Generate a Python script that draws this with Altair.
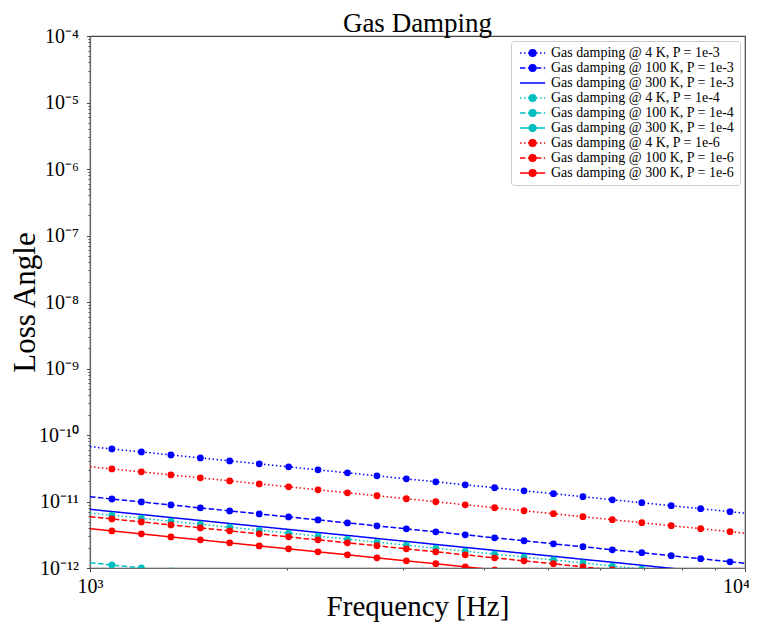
import altair as alt
import pandas as pd

# ---- data (frequency grid: plot edges + marker positions) ----
freq = [1000, 1080, 1198, 1329, 1474, 1634, 1813, 2010, 2229, 2472, 2742, 3041,
        3372, 3740, 4147, 4599, 5100, 5657, 6273, 6957, 7716, 8557, 9487, 10000]

series_names = [
    "Gas damping @ 4 K, P = 1e-3",
    "Gas damping @ 100 K, P = 1e-3",
    "Gas damping @ 300 K, P = 1e-3",
    "Gas damping @ 4 K, P = 1e-4",
    "Gas damping @ 100 K, P = 1e-4",
    "Gas damping @ 300 K, P = 1e-4",
    "Gas damping @ 4 K, P = 1e-6",
    "Gas damping @ 100 K, P = 1e-6",
    "Gas damping @ 300 K, P = 1e-6",
]
series_colors = ["#0000ff", "#0000ff", "#0000ff",
                 "#00bfbf", "#00bfbf", "#00bfbf",
                 "#ff0000", "#ff0000", "#ff0000"]
series_style = ["dotted", "dashed", "solid"] * 3
series_markers = [True, True, False, True, True, True, True, True, True]

blue_4K = [6.67e-11, 6.17e-11, 5.57e-11, 5.02e-11, 4.52e-11, 4.08e-11, 3.68e-11, 3.32e-11,
           2.99e-11, 2.70e-11, 2.43e-11, 2.19e-11, 1.98e-11, 1.78e-11, 1.61e-11, 1.45e-11,
           1.31e-11, 1.18e-11, 1.06e-11, 9.59e-12, 8.64e-12, 7.80e-12, 7.03e-12, 6.67e-12]
blue_100K = [1.18e-11, 1.09e-11, 9.85e-12, 8.88e-12, 8.01e-12, 7.22e-12, 6.51e-12, 5.87e-12,
             5.29e-12, 4.77e-12, 4.30e-12, 3.88e-12, 3.50e-12, 3.16e-12, 2.84e-12, 2.57e-12,
             2.31e-12, 2.09e-12, 1.88e-12, 1.70e-12, 1.53e-12, 1.38e-12, 1.24e-12, 1.18e-12]
blue_300K = [7.63e-12, 7.06e-12, 6.37e-12, 5.74e-12, 5.18e-12, 4.67e-12, 4.21e-12, 3.80e-12,
             3.42e-12, 3.09e-12, 2.78e-12, 2.51e-12, 2.26e-12, 2.04e-12, 1.84e-12, 1.66e-12,
             1.50e-12, 1.35e-12, 1.22e-12, 1.10e-12, 9.89e-13, 8.92e-13, 8.04e-13, 7.63e-13]
cyan_4K = [6.71e-12, 6.21e-12, 5.60e-12, 5.05e-12, 4.55e-12, 4.11e-12, 3.70e-12, 3.34e-12,
           3.01e-12, 2.71e-12, 2.45e-12, 2.21e-12, 1.99e-12, 1.79e-12, 1.62e-12, 1.46e-12,
           1.32e-12, 1.19e-12, 1.07e-12, 9.65e-13, 8.70e-13, 7.84e-13, 7.07e-13, 6.71e-13]
cyan_100K = [1.20e-12, 1.11e-12, 1.00e-12, 9.03e-13, 8.14e-13, 7.34e-13, 6.62e-13, 5.97e-13,
             5.38e-13, 4.85e-13, 4.38e-13, 3.95e-13, 3.56e-13, 3.21e-13, 2.89e-13, 2.61e-13,
             2.35e-13, 2.12e-13, 1.91e-13, 1.73e-13, 1.56e-13, 1.40e-13, 1.26e-13, 1.20e-13]
cyan_300K = [7.75e-13, 7.17e-13, 6.47e-13, 5.83e-13, 5.26e-13, 4.74e-13, 4.27e-13, 3.86e-13,
             3.48e-13, 3.13e-13, 2.83e-13, 2.55e-13, 2.30e-13, 2.07e-13, 1.87e-13, 1.68e-13,
             1.52e-13, 1.37e-13, 1.24e-13, 1.11e-13, 1.00e-13, 9.06e-14, 8.17e-14, 7.75e-14]
red_4K = [3.34e-11, 3.09e-11, 2.79e-11, 2.51e-11, 2.27e-11, 2.04e-11, 1.84e-11, 1.66e-11,
          1.50e-11, 1.35e-11, 1.22e-11, 1.10e-11, 9.91e-12, 8.93e-12, 8.05e-12, 7.26e-12,
          6.55e-12, 5.91e-12, 5.32e-12, 4.80e-12, 4.33e-12, 3.90e-12, 3.52e-12, 3.34e-12]
red_100K = [5.91e-12, 5.47e-12, 4.93e-12, 4.45e-12, 4.01e-12, 3.62e-12, 3.26e-12, 2.94e-12,
            2.65e-12, 2.39e-12, 2.16e-12, 1.94e-12, 1.75e-12, 1.58e-12, 1.42e-12, 1.28e-12,
            1.16e-12, 1.04e-12, 9.42e-13, 8.50e-13, 7.66e-13, 6.91e-13, 6.23e-13, 5.91e-13]
red_300K = [3.90e-12, 3.61e-12, 3.26e-12, 2.93e-12, 2.65e-12, 2.39e-12, 2.15e-12, 1.94e-12,
            1.75e-12, 1.58e-12, 1.42e-12, 1.28e-12, 1.16e-12, 1.04e-12, 9.40e-13, 8.48e-13,
            7.65e-13, 6.90e-13, 6.22e-13, 5.61e-13, 5.05e-13, 4.56e-13, 4.11e-13, 3.90e-13]

series_values = [blue_4K, blue_100K, blue_300K, cyan_4K, cyan_100K, cyan_300K,
                 red_4K, red_100K, red_300K]

# tick labels
y_exponents = list(range(-12, -3))
y_tick_labels = ["10⁻¹²", "10⁻¹¹", "10⁻¹⁰", "10⁻⁹", "10⁻⁸", "10⁻⁷", "10⁻⁶", "10⁻⁵", "10⁻⁴"]
x_tick_labels = ["10³", "10⁴"]
minor_mult = [1, 2, 3, 4, 5, 6, 7, 8, 9]

y_tick_values = [m * 10.0 ** e for e in y_exponents[:-1] for m in minor_mult] + [1e-4]
x_tick_values = [m * 1000 for m in minor_mult] + [10000]

rows = []
for name, vals, style, marked in zip(series_names, series_values, series_style, series_markers):
    n = len(freq)
    for i, (f, v) in enumerate(zip(freq, vals)):
        rows.append({"freq": f, "value": v, "series": name, "style": style,
                     "marker": bool(marked and 0 < i < n - 1)})
df = pd.DataFrame(rows)

# legend symbols (line segment + dot); one path unit = 6 px with symbolSize 144
circ = "M1.05,0A0.55,0.55,0,1,1,2.15,0A0.55,0.55,0,1,1,1.05,0Z"
dotted_line = "M-0.5,0h0.25M0.17,0h0.25M0.83,0h0.25M2.17,0h0.25M2.83,0h0.25M3.5,0h0.2"
dashed_line = "M-0.5,0h0.92M0.82,0h0.92M2.14,0h0.92M3.46,0h0.24"
solid_line = "M-0.5,0H3.7"
legend_shapes = [dotted_line + circ, dashed_line + circ, solid_line,
                 dotted_line + circ, dashed_line + circ, solid_line + circ,
                 dotted_line + circ, dashed_line + circ, solid_line + circ]

serif = "Liberation Serif"

major_y = "abs(log(datum.value)/LN10 - round(log(datum.value)/LN10)) < 1e-6"
y_label_expr = f"{major_y} ? {y_tick_labels!r}[round(log(datum.value)/LN10) + 12] : ''"
x_label_expr = f"{major_y} ? {x_tick_labels!r}[round(log(datum.value)/LN10) - 3] : ''"

x_enc = alt.X("freq:Q",
              scale=alt.Scale(type="log", domain=[1000, 10000], nice=False),
              axis=alt.Axis(title="Frequency [Hz]", values=x_tick_values,
                            labelExpr=x_label_expr, labelFlush=False, labelOverlap=False,
                            labelFont=serif, labelFontSize=20, labelColor="black",
                            labelPadding=5, labelBaseline="top",
                            labelOffset={"condition": {"test": "datum.value >= 9999", "value": -9},
                                         "value": 0},
                            tickSize={"condition": {"test": major_y, "value": 3.5}, "value": 2},
                            tickColor="#444", domainColor="#666", domainWidth=1.2,
                            grid=False, titleFont=serif, titleFontSize=29,
                            titleFontWeight="normal", titleColor="black",
                            titleBaseline="alphabetic", titleY=47))
y_enc = alt.Y("value:Q",
              scale=alt.Scale(type="log", domain=[1e-12, 1e-4], nice=False),
              axis=alt.Axis(title="Loss Angle", values=y_tick_values,
                            labelExpr=y_label_expr, labelOverlap=False, labelFlush=False,
                            labelFont=serif, labelFontSize=20, labelColor="black",
                            labelPadding=8,
                            tickSize={"condition": {"test": major_y, "value": 3.5}, "value": 2},
                            tickColor="#444", domainColor="#666", domainWidth=1.2,
                            grid=False, titleFont=serif, titleFontSize=31,
                            titleFontWeight="normal", titleColor="black",
                            titleBaseline="alphabetic", titleX=-56, titleAngle=-90))

color_scale = alt.Scale(domain=series_names, range=series_colors)

lines = alt.Chart(df).mark_line(strokeWidth=1.5, clip=True).encode(
    x=x_enc, y=y_enc,
    color=alt.Color("series:N", scale=color_scale, legend=None),
    strokeDash=alt.StrokeDash("style:N",
                              scale=alt.Scale(domain=["dotted", "dashed", "solid"],
                                              range=[[1.5, 2.475], [5.55, 2.4], [1, 0]]),
                              legend=None),
)

points = alt.Chart(df).transform_filter("datum.marker").mark_point(
    filled=True, size=46, opacity=1, clip=True).encode(
    x=x_enc, y=y_enc,
    color=alt.Color("series:N", scale=color_scale, legend=None),
)

legend_spec = dict(title=None, orient="top-right", offset=5, padding=5,
                   strokeColor="#cccccc", fillColor="white", cornerRadius=3,
                   labelFont=serif, labelFontSize=14, labelColor="black",
                   symbolSize=144, symbolStrokeWidth=1.5, rowPadding=1,
                   labelOffset=21, labelLimit=0)

legend_layer = alt.Chart(df).transform_filter("false").mark_point(
    filled=True, opacity=1, strokeWidth=1.5).encode(
    fill=alt.Fill("series:N", scale=alt.Scale(domain=series_names, range=series_colors),
                  legend=alt.Legend(**legend_spec)),
    stroke=alt.Stroke("series:N", scale=alt.Scale(domain=series_names, range=series_colors),
                      legend=alt.Legend(**legend_spec)),
    shape=alt.Shape("series:N", scale=alt.Scale(domain=series_names, range=legend_shapes),
                    legend=alt.Legend(**legend_spec)),
)

chart = alt.layer(lines, points, legend_layer).resolve_scale(
    color="independent", strokeDash="independent"
).properties(
    width=655, height=532,
    autosize=alt.AutoSizeParams(type="none"),
    padding={"left": 82, "top": 28, "right": 4, "bottom": 54},
    title=alt.TitleParams("Gas Damping", font=serif, fontSize=27, fontWeight="normal",
                          anchor="middle", offset=8, color="black", frame="group", dy=20),
).configure(background="white", font=serif,
            view=alt.ViewConfig(stroke="#444", strokeWidth=1.2),
            legend=alt.LegendConfig(labelFont=serif, labelFontSize=14))

chart.save("out.html", embed_options={"renderer": "svg", "actions": False})
